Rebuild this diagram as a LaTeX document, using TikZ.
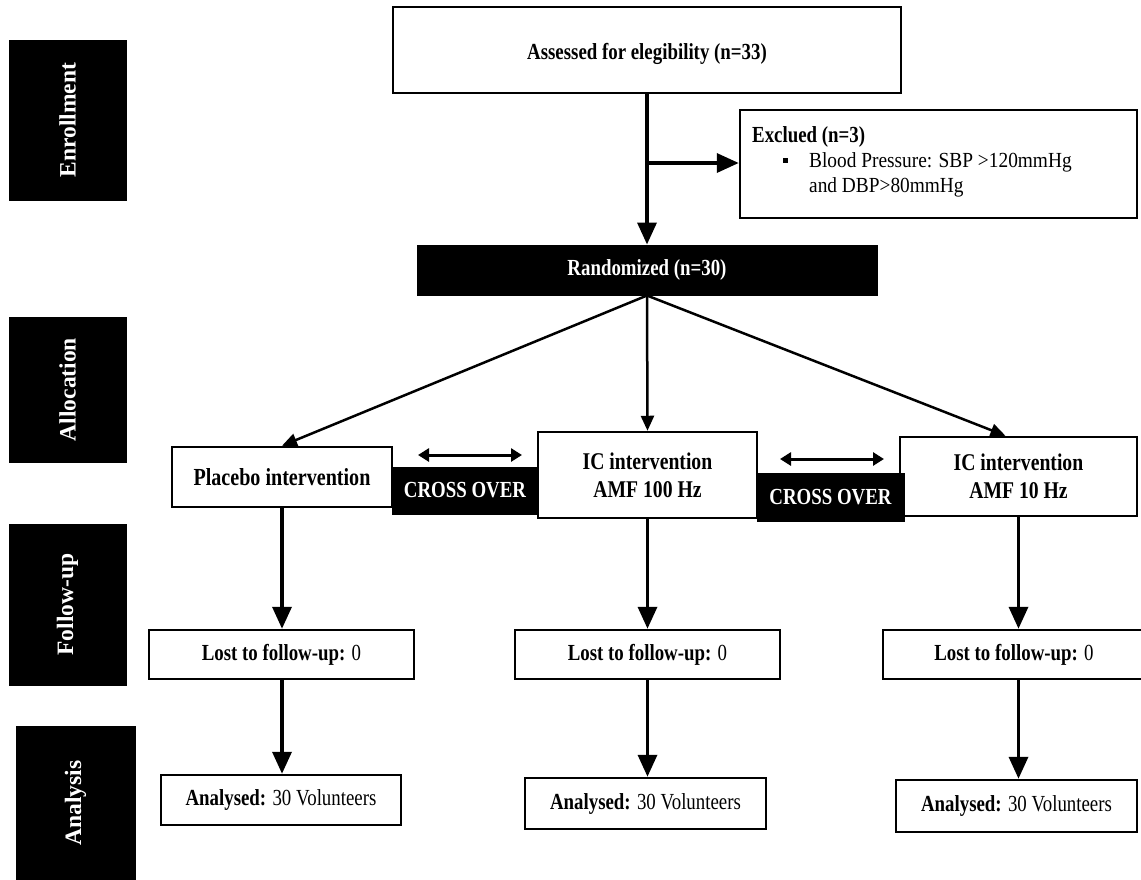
\documentclass[tikz,border=0pt]{standalone}
\usepackage{fontspec}
\setmainfont{Liberation Serif}[FakeStretch=0.82]
\newfontfamily\plainserif{Liberation Serif}
\newfontfamily\midserif{Liberation Serif}[FakeStretch=0.9]
\usetikzlibrary{arrows.meta,calc}
\begin{document}
\begin{tikzpicture}[x=1pt,y=-1pt,
  txt/.style={font=\fontsize{23}{28}\selectfont},
  box/.style={draw=black, fill=white, line width=2.5pt, inner sep=0pt, align=center, txt},
  blackbox/.style={draw=black, fill=black, text=white, line width=1pt, inner sep=0pt, align=center, font=\fontsize{23}{28}\selectfont\bfseries},
  label/.style={draw=black, fill=black, inner sep=0pt},
  labeltxt/.style={rotate=90, text=white, inner sep=0pt, font=\plainserif\fontsize{23.5}{26}\selectfont\bfseries},
  arr/.style={line width=3.5pt, -{Triangle[length=22pt,width=19pt]}},
  thinarr/.style={line width=2.5pt, -{Triangle[length=15pt,width=13pt]}},
  dbl/.style={line width=3pt, {Triangle[length=11pt,width=13pt]}-{Triangle[length=11pt,width=13pt]}}
]
\useasboundingbox (0,0) rectangle (1141,879);
\fill[white] (0,0) rectangle (1141,879);

% phase labels
\node[label, minimum width=117pt, minimum height=160pt] (enr) at (67.5,120) {};
\node[labeltxt] (enrt) at (enr.center) {Enrollment};
\node[label, minimum width=117pt, minimum height=145pt] (alloc) at (67.5,389.5) {};
\node[labeltxt] (alloct) at (alloc.center) {Allocation};
\node[label, minimum width=117pt, minimum height=161pt] (fu) at (67.5,604.5) {};
\node[labeltxt] (fut) at (fu.center) {Follow-up};
\node[label, minimum width=119pt, minimum height=154pt] (ana) at (75.5,803) {};
\node[labeltxt] (anat) at (ana.center) {Analysis};

% enrollment
\node[box, minimum width=508pt, minimum height=86pt] (top) at (647,50) {\raisebox{-9pt}[0pt][0pt]{\bfseries Assessed for elegibility (n=33)}};
\node[box, minimum width=397pt, minimum height=108pt] (excl) at (938.5,164) {};
\node[anchor=base west, inner sep=0pt, font=\fontsize{23}{28}\selectfont\bfseries] (exclt) at (752,142) {Exclued (n=3)};
\node[fill=black, minimum size=5pt, inner sep=0pt] (bul) at (785,160) {};
\node[anchor=base west, inner sep=0pt, font=\midserif\fontsize{21.5}{25}\selectfont] (exclb1) at (809,167) {Blood Pressure: SBP >120mmHg};
\node[anchor=base west, inner sep=0pt, font=\midserif\fontsize{21.5}{25}\selectfont] (exclb2) at (809,192) {and DBP>80mmHg};
\node[blackbox, minimum width=460pt, minimum height=50pt] (rand) at (647,270) {Randomized (n=30)};

\draw[arr] (top.south) -- (rand.north);
\coordinate (br) at (647,163);
\draw[arr] (br) -- (br -| excl.west);

% allocation
\node[box, minimum width=220pt, minimum height=60pt] (plac) at (282,477) {\fontsize{24.5}{28}\selectfont\bfseries Placebo intervention};
\node[box, minimum width=219pt, minimum height=86pt, font=\fontsize{24}{28}\selectfont\bfseries] (ic100) at (647.5,475) {IC intervention\\AMF 100 Hz};
\node[box, minimum width=237pt, minimum height=79pt, font=\fontsize{24}{28}\selectfont\bfseries] (ic10) at (1018.5,476.5) {IC intervention\\AMF 10 Hz};
\node[blackbox, minimum width=146pt, minimum height=47pt] (cross1) at (465,490.5) {CROSS OVER};
\node[blackbox, minimum width=147pt, minimum height=48pt] (cross2) at (830.5,497) {CROSS OVER};
\coordinate (dl1) at (418,455);
\coordinate (dr1) at (522,455);
\coordinate (dl2) at (780,459);
\coordinate (dr2) at (884,459);
\draw[dbl] (dl1) -- (dr1);
\draw[dbl] (dl2) -- (dr2);

\coordinate (ic10in) at ($(ic10.north)+(-13,0)$);
\draw[thinarr] (rand.south) -- (plac.north);
\draw[thinarr] (rand.south) -- (ic100.north);
\draw[thinarr] (rand.south) -- (ic10in);

% follow-up
\node[box, minimum width=265pt, minimum height=49pt] (lost1) at (281.5,654.5) {\textbf{Lost to follow-up:} 0};
\node[box, minimum width=265pt, minimum height=49pt] (lost2) at (647.5,654.5) {\textbf{Lost to follow-up:} 0};
\node[box, minimum width=262pt, minimum height=49pt] (lost3) at (1014,654.5) {\textbf{Lost to follow-up:} 0};

\draw[arr] (plac.south) -- (plac.south |- lost1.north);
\draw[arr] (ic100.south) -- (ic100.south |- lost2.north);
\draw[arr] (ic10.south) -- (ic10.south |- lost3.north);

% analysis
\node[box, minimum width=240pt, minimum height=50pt] (an1) at (281,800) {\textbf{Analysed:} 30 Volunteers};
\node[box, minimum width=241pt, minimum height=51pt] (an2) at (645.5,803.5) {\textbf{Analysed:} 30 Volunteers};
\node[box, minimum width=241pt, minimum height=52pt] (an3) at (1016.5,806) {\textbf{Analysed:} 30 Volunteers};

\draw[arr] (lost1.south -| plac.south) -- (plac.south |- an1.north);
\draw[arr] (lost2.south -| ic100.south) -- (ic100.south |- an2.north);
\draw[arr] (lost3.south -| ic10.south) -- (ic10.south |- an3.north);
\end{tikzpicture}
\end{document}
